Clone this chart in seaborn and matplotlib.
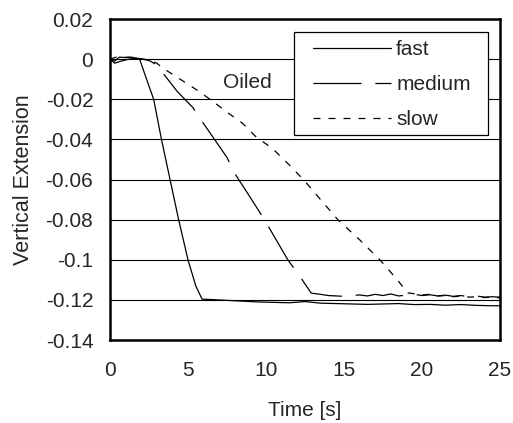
import numpy as np
import pandas as pd
import matplotlib
matplotlib.use("Agg")
import matplotlib.pyplot as plt
from matplotlib.patches import Rectangle
import seaborn as sns

# values
fast_t = [0, 0.3, 0.6, 1.0, 1.4, 1.9, 2.3, 2.8, 3.3, 3.85, 4.4, 5.0, 5.5, 5.9,
          6.5, 7.5, 8.5, 9.5, 10.5, 11.5, 12.5, 13.5, 14.5, 15.5, 16.5, 17.5,
          18.5, 19.5, 20.5, 21.5, 22.5, 23.5, 24.5, 25]
fast_y = [0.0, -0.001, 0.001, 0.0008, 0.001, 0.0, -0.009, -0.020, -0.040, -0.060,
          -0.080, -0.100, -0.113, -0.1196, -0.1198, -0.1202, -0.1206, -0.1210,
          -0.1212, -0.1214, -0.1208, -0.1216, -0.1218, -0.1220, -0.1222, -0.1220,
          -0.1218, -0.1223, -0.1222, -0.1226, -0.1223, -0.1227, -0.1229, -0.1229]

medium_t = [0, 0.3, 0.7, 1.2, 1.7, 2.2, 2.6, 3.0, 3.4, 4.3, 5.3, 5.9, 6.7, 7.5,
            8.0, 9.0, 9.9, 11.4, 12.2, 12.9, 13.5, 14.0, 14.5, 15.0, 15.5, 16.0,
            16.5, 17.0, 17.5, 18.0, 18.5, 19.0, 19.5, 20.0, 20.5, 21.0, 21.5,
            22.0, 22.5, 23.0, 23.5, 24.0, 24.5, 25]
medium_y = [0.0, -0.002, -0.001, 0.0, 0.0005, 0.0, -0.001, -0.003, -0.007, -0.016,
            -0.024, -0.031, -0.040, -0.049, -0.057, -0.069, -0.080, -0.100, -0.1086,
            -0.1166, -0.1172, -0.1178, -0.1180, -0.1182, -0.1178, -0.1175, -0.1180,
            -0.1172, -0.1178, -0.1170, -0.1180, -0.1176, -0.1172, -0.1178, -0.1174,
            -0.1180, -0.1176, -0.1182, -0.1178, -0.1184, -0.1180, -0.1186, -0.1184,
            -0.1186]

slow_t = [0, 0.4, 0.8, 1.2, 1.6, 2.0, 2.5, 3.0, 3.4, 4.6, 5.6, 6.5, 7.5, 8.5, 9.4,
          10.4, 11.4, 12.4, 13.5, 14.6, 16.0, 17.3, 18.2, 19.1, 19.6, 20.0, 20.5,
          21.0, 21.5, 22.0, 22.5, 23.0, 23.5, 24.0, 24.5, 25]
slow_y = [0.0, 0.001, 0.0008, 0.001, 0.0005, 0.0, -0.0005, -0.002, -0.0045, -0.0105,
          -0.0155, -0.0205, -0.0264, -0.032, -0.039, -0.0444, -0.052, -0.060, -0.070,
          -0.080, -0.090, -0.100, -0.108, -0.1165, -0.1170, -0.1175, -0.1172, -0.1180,
          -0.1178, -0.1184, -0.1180, -0.1186, -0.1184, -0.1188, -0.1186, -0.1190]

speeds = ["fast", "medium", "slow"]
y_ticks = [0.02, 0, -0.02, -0.04, -0.06, -0.08, -0.1, -0.12, -0.14]
y_tick_labels = ["0.02", "0", "-0.02", "-0.04", "-0.06", "-0.08", "-0.1", "-0.12", "-0.14"]
x_ticks = [0, 5, 10, 15, 20, 25]

df = pd.concat([
    pd.DataFrame({"time": fast_t, "ext": fast_y, "speed": "fast"}),
    pd.DataFrame({"time": medium_t, "ext": medium_y, "speed": "medium"}),
    pd.DataFrame({"time": slow_t, "ext": slow_y, "speed": "slow"}),
], ignore_index=True)

sns.set_style("white")
plt.rcParams['font.family'] = ['Liberation Sans', 'DejaVu Sans']

fig = plt.figure(figsize=(5.13, 4.23), dpi=100)
ax = fig.add_axes([0.2144, 0.196, 0.7603, 0.759])

sns.lineplot(data=df, x="time", y="ext", hue="speed", style="speed",
             hue_order=speeds, style_order=speeds,
             palette=["black"] * 3,
             dashes={"fast": "", "medium": (38.4, 11.1), "slow": (5.6, 6.4)},
             estimator=None, linewidth=0.9, legend=False, ax=ax)

ax.set_xlim(0, 25)
ax.set_ylim(-0.14, 0.02)
ax.set_xticks(x_ticks)
ax.set_xticklabels([str(v) for v in x_ticks])
ax.set_yticks(y_ticks)
ax.set_yticklabels(y_tick_labels)
ax.tick_params(axis="x", direction="in", length=4, width=1, pad=15, labelsize=15)
ax.tick_params(axis="y", length=0, pad=12, labelsize=15)
ax.yaxis.grid(True, color="black", linewidth=0.8)
ax.xaxis.grid(False)
for s in ax.spines.values():
    s.set_color("black")
    s.set_linewidth(1.8)

ax.set_xlabel("Time [s]", fontsize=15, labelpad=15)
ax.set_ylabel("Vertical Extension", fontsize=15.5, labelpad=8)

ax.text(8.8, -0.0115, "Oiled", ha="center", va="center", fontsize=15)

# legend box
ax.add_patch(Rectangle((0.472, 0.6386), 0.497, 0.3209, transform=ax.transAxes,
                       facecolor="white", edgecolor="black", linewidth=0.9, zorder=4))
leg = ax.legend(ax.lines[:3], speeds, loc="upper left", bbox_to_anchor=(0.5205, 0.935),
                frameon=False, borderpad=0, borderaxespad=0, handlelength=3.75,
                handletextpad=0.24, labelspacing=0.78, fontsize=15)
leg.set_zorder(5)

fig.savefig("out.png", dpi=100)
